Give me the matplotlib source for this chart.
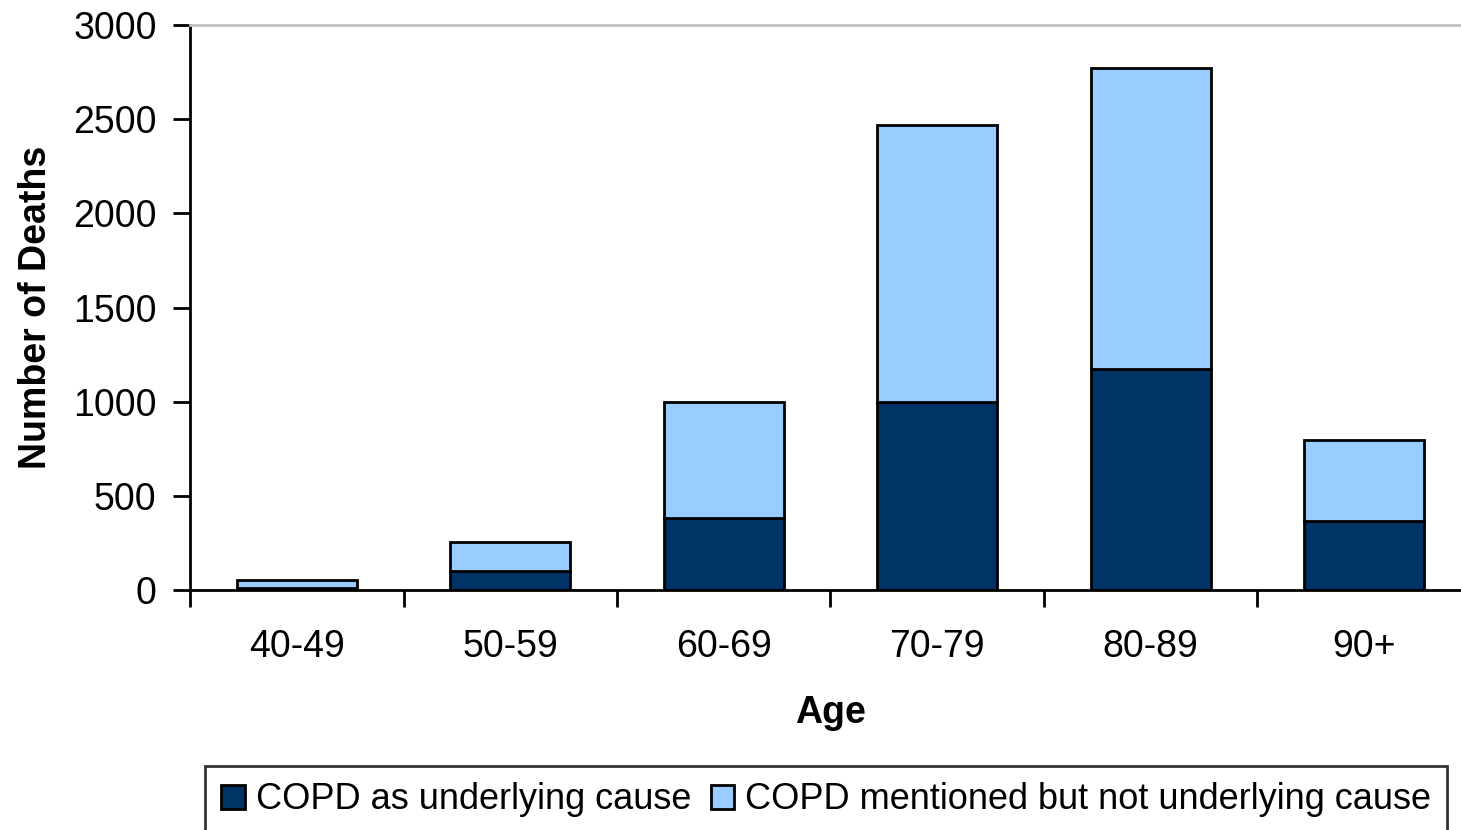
import matplotlib
matplotlib.use("Agg")
import matplotlib.pyplot as plt
import numpy as np

plt.rcParams["font.family"] = ["Liberation Sans", "DejaVu Sans"]

ages = ["40-49", "50-59", "60-69", "70-79", "80-89", "90+"]
underlying = [8, 100, 382, 1000, 1174, 366]
mentioned = [45, 155, 618, 1470, 1598, 431]

dark, light = "#003366", "#99CCFF"

fig = plt.figure(figsize=(14.61, 8.30), dpi=100)
ax = fig.add_axes([190 / 1461, 1 - 590 / 830, 1281 / 1461, 565 / 830])

x = np.arange(len(ages))
ax.bar(x, underlying, width=0.56, color=dark, edgecolor="black", lw=2,
       label="COPD as underlying cause")
ax.bar(x, mentioned, width=0.56, bottom=underlying, color=light, edgecolor="black", lw=2,
       label="COPD mentioned but not underlying cause")

ax.set_xlim(-0.5, 5.5)
ax.set_ylim(0, 3000)
ax.set_yticks(range(0, 3001, 500))
ax.tick_params(axis="y", labelsize=27, length=12, width=2, pad=12)
ax.set_xticks(x)
ax.set_xticklabels(ages)
ax.tick_params(axis="x", which="major", length=0, labelsize=27, pad=28)
ax.set_xticks(np.arange(-0.5, 5.5, 1), minor=True)
ax.tick_params(axis="x", which="minor", length=12, width=2)

for s in ("left", "bottom"):
    ax.spines[s].set_linewidth(2)
ax.spines["top"].set_color("#c0c0c0")
ax.spines["top"].set_linewidth(2)
ax.spines["right"].set_visible(False)

ax.set_xlabel("Age", fontsize=27, fontweight="bold", labelpad=22)
ax.set_ylabel("Number of Deaths", fontsize=27, fontweight="bold", labelpad=14)

leg = fig.legend(loc="upper left", bbox_to_anchor=(205 / 1461, 1 - 766 / 830),
                 ncol=2, fontsize=26, frameon=True, fancybox=False,
                 handlelength=0.65, handleheight=0.65, handletextpad=0.3,
                 columnspacing=0.55, borderpad=0.45, borderaxespad=0)
leg.get_frame().set_edgecolor("black")
leg.get_frame().set_linewidth(2)

fig.savefig("out.png", dpi=100)
